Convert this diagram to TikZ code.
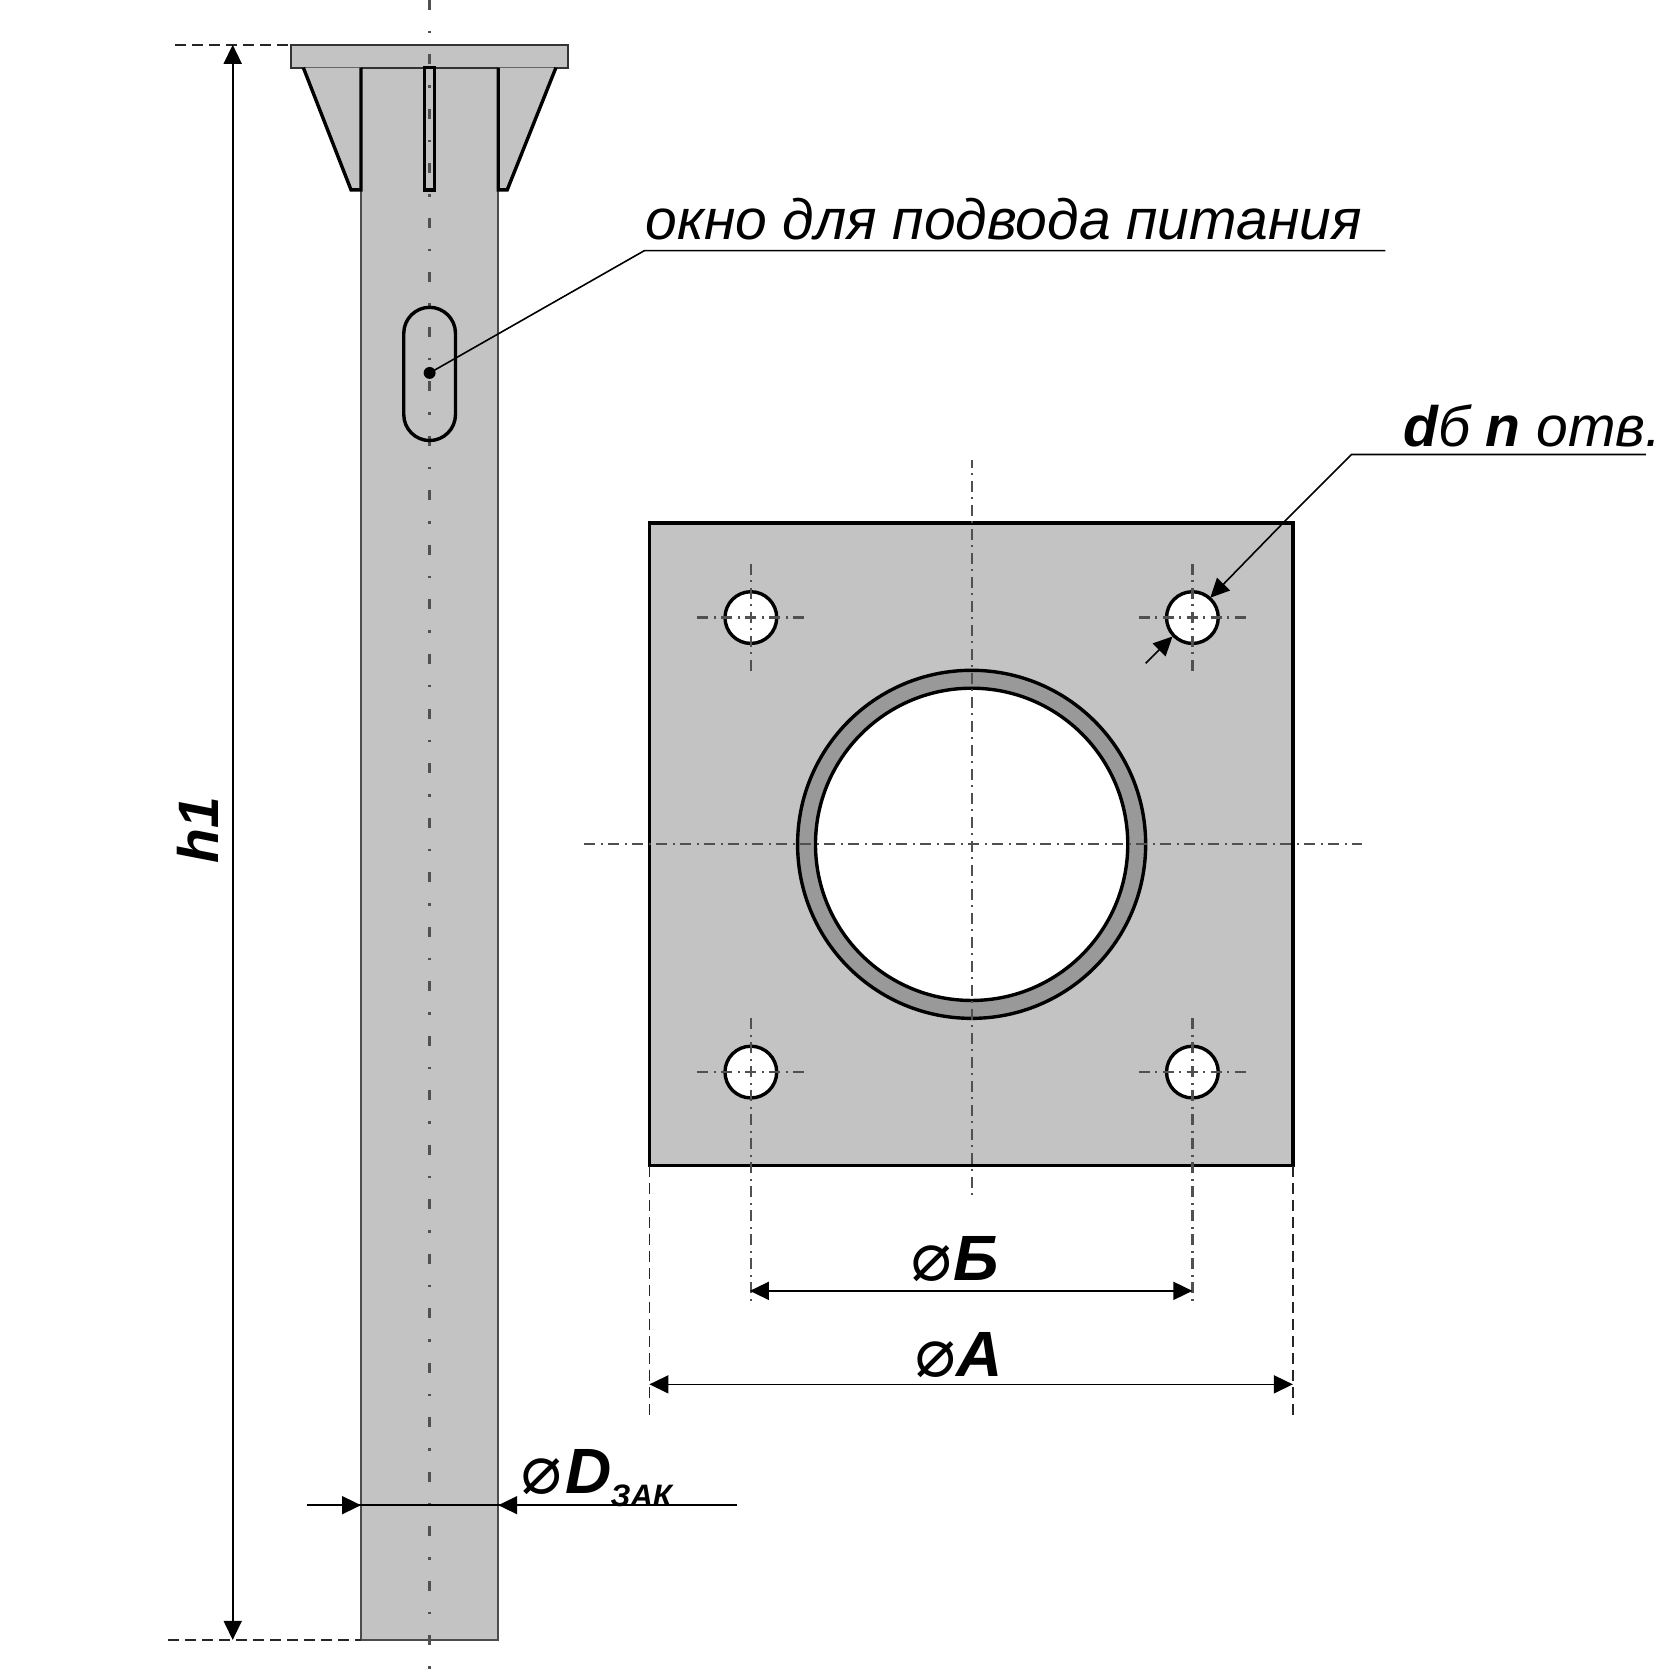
\documentclass[tikz,border=0pt]{standalone}
\usepackage{fontspec}
\setmainfont{Liberation Sans}
\newfontfamily\djv{DejaVu Sans}
\usetikzlibrary{arrows.meta}
\definecolor{steel}{HTML}{C3C3C3}
\definecolor{ringgray}{HTML}{999999}
\definecolor{centergray}{HTML}{505050}
\tikzset{
  x=0.9945pt,y=-0.9945pt,
  part/.style={draw=black,line width=3.4pt,fill=steel,line join=miter},
  column/.style={draw=black!70,line width=2.2pt,fill=steel},
  center/.style={draw=centergray,line width=2.4pt,dash pattern=on 10pt off 21pt on 2.5pt off 21pt},
  finecenter/.style={draw=centergray,line width=2.2pt,dash pattern=on 11pt off 5.5pt on 2pt off 5.5pt},
  hole/.style={draw=black,line width=3.4pt,fill=white},
  dim/.style={draw=black,line width=1.6pt},
  ext/.style={draw=black!85,line width=1.6pt,dash pattern=on 11pt off 6pt},
  tip/.style={-{Triangle[length=19pt,width=18pt]}},
  tips/.style={{Triangle[length=19pt,width=18pt]}-{Triangle[length=19pt,width=18pt]}},
  lab/.style={anchor=base west,inner sep=0pt,outer sep=0pt},
}
\newcommand{\diam}{{\djv\itshape\char"2300}}
\begin{document}
\begin{tikzpicture}
\useasboundingbox[fill=white] (0,0) rectangle (1689.3,1685.2);
% column
\coordinate (ctop) at (432,0);
\coordinate (cbot) at (432,1685);
\draw[column] (363,68) rectangle (501,1649);
\draw[column,draw=black!80,line width=2.2pt] (293,45) rectangle (571,68);
\draw[part] (305,68) -- (353,191) -- (363,191) -- (363,68);
\draw[part] (559,68) -- (510,191) -- (501,191) -- (501,68);
\draw[part] (427,68) rectangle (437,191);
\draw[center] (ctop) -- (cbot);
\draw[draw=black,line width=3.4pt,rounded corners=26pt] (406,309) rectangle (458,443);
% h1
\coordinate (htop) at (234,45);
\coordinate (hbot) at (234,1649);
\draw[ext] (176,45) -- (293,45);
\draw[ext] (169,1649) -- (363,1649);
\draw[dim,tips] (htop) -- (hbot);
\node[rotate=90,inner sep=0pt,font=\bfseries\itshape\fontsize{57}{57}\selectfont] (hlabel) at (199,835) {h1};
% diameter D
\coordinate (dl) at (309,1513.5);
\coordinate (dr) at (741,1513.5);
\coordinate (dcl) at (363,1513.5);
\coordinate (dcr) at (501,1513.5);
\draw[dim] (dl) -- (dr);
\draw[dim,tip] (dl) -- (dcl);
\draw[dim,tip] (dr) -- (dcr);
\node[lab,font=\fontsize{68}{68}\selectfont] (dlab) at (522,1502) {\diam};
\node[lab,font=\bfseries\itshape\fontsize{64}{64}\selectfont] (dlab2) at (569,1502) {D};
\node[lab,font=\bfseries\itshape\fontsize{31}{31}\selectfont] (dlab3) at (614,1515) {ЗАК};
% window callout
\node[lab,font=\itshape\fontsize{57}{57}\selectfont] (okno) at (649,241) {окно для подвода питания};
\coordinate (wstart) at (432,375);
\coordinate (wknee) at (648,252);
\coordinate (wend) at (1393,252);
\fill[black] (wstart) circle (6);
\draw[dim] (wstart) -- (wknee) -- (wend);
% plate
\draw[part] (653,526) rectangle (1300,1172);
\coordinate (pc) at (977,849);
\draw[draw=black,line width=3.4pt,fill=ringgray] (pc) circle (175);
\draw[draw=black,line width=3.4pt,fill=white] (pc) circle (157);
\foreach \n/\hx/\hy/\hb in {a/755/621/675,b/1199/621/675,c/755/1078/1312,d/1199/1078/1312}{
  \coordinate (h\n) at (\hx,\hy);
  \draw[hole] (h\n) circle (26);
  \draw[finecenter] (\hx-54,\hy) -- (\hx+54,\hy);
  \draw[finecenter] (\hx,\hy-54) -- (\hx,\hb);
}
\draw[finecenter,dash phase=3.5pt] (977,463) -- (977,1206);
\draw[finecenter,dash phase=21.5pt] (585,849) -- (1370,849);
% extensions
\draw[ext] (653,1172) -- (653,1427);
\draw[ext] (1300,1172) -- (1300,1427);
% B, A
\coordinate (bl) at (754,1298);
\coordinate (br) at (1199,1298);
\draw[dim,tips] (bl) -- (br);
\coordinate (al) at (653,1392);
\coordinate (ar) at (1300,1392);
\draw[dim,tips] (al) -- (ar);
\node[lab,font=\fontsize{68}{68}\selectfont] (blab) at (915,1288) {\diam};
\node[lab,font=\bfseries\itshape\fontsize{64}{64}\selectfont] (blab2) at (959,1288) {Б};
\node[lab,font=\fontsize{68}{68}\selectfont] (alab) at (919,1384) {\diam};
\node[lab,font=\bfseries\itshape\fontsize{64}{64}\selectfont] (alab2) at (962,1384) {A};
% bolt hole callout
\node[lab,font=\itshape\fontsize{57}{57}\selectfont] (dbn) at (1411,449) {{\bfseries d}б {\bfseries n} отв.};
\coordinate (bend) at (1655,457);
\coordinate (bknee) at (1359,457);
\coordinate (btip) at (1217,601);
\draw[dim] (bend) -- (bknee) -- (1291,525);
\draw[dim,tip] (1291,525) -- (btip);
\coordinate (ctail) at (1152,667);
\coordinate (ctip) at (1179,640);
\draw[dim,tip] (ctail) -- (ctip);
\end{tikzpicture}
\end{document}
